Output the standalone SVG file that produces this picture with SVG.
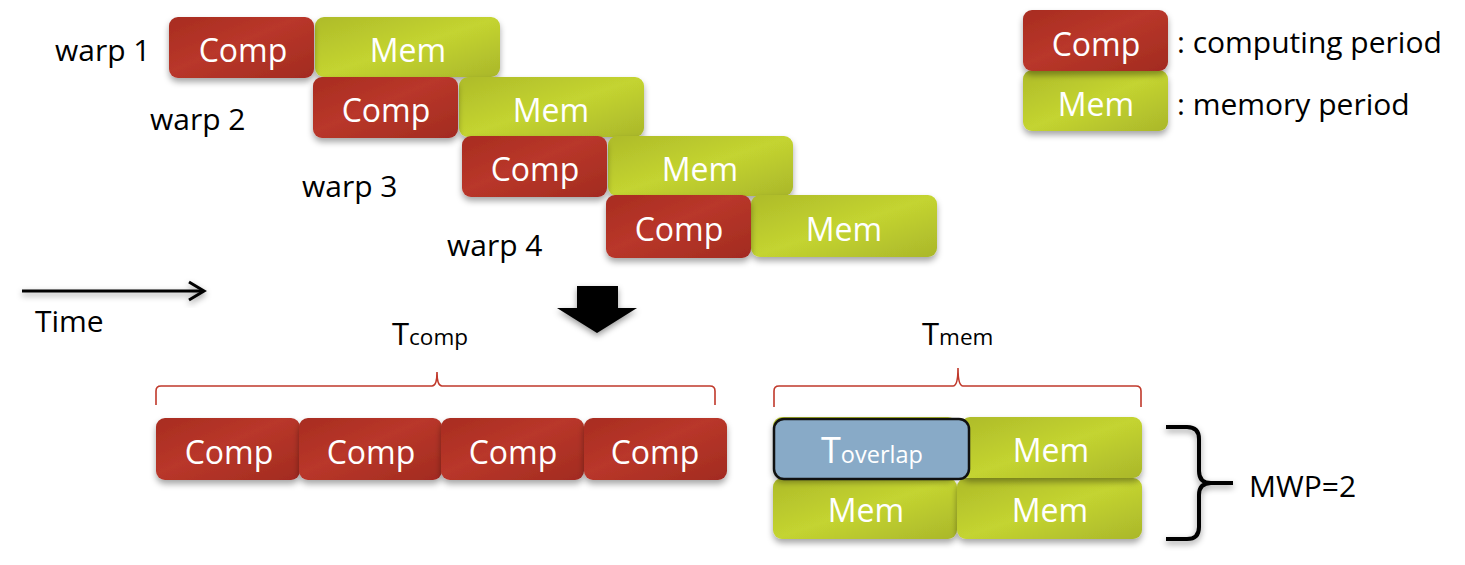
<svg xmlns="http://www.w3.org/2000/svg" width="1465" height="565" viewBox="0 0 1465 565">
<defs>
  <linearGradient id="gComp" x1="0" y1="0" x2="1" y2="1">
    <stop offset="0" stop-color="#a82c20"/>
    <stop offset="0.45" stop-color="#b9372a"/>
    <stop offset="1" stop-color="#a22b20"/>
  </linearGradient>
  <linearGradient id="gMem" x1="0" y1="0" x2="1" y2="1">
    <stop offset="0" stop-color="#aebb2a"/>
    <stop offset="0.5" stop-color="#c4d430"/>
    <stop offset="1" stop-color="#aab72b"/>
  </linearGradient>
  <filter id="sh" x="-10%" y="-10%" width="120%" height="140%">
    <feDropShadow dx="0" dy="4" stdDeviation="3" flood-color="#000" flood-opacity="0.35"/>
  </filter>
  <filter id="sh2" x="-20%" y="-20%" width="140%" height="160%">
    <feDropShadow dx="0" dy="3" stdDeviation="3" flood-color="#000" flood-opacity="0.4"/>
  </filter>
</defs>
<style>
  .comp { fill: url(#gComp); filter: url(#sh); }
  .mem { fill: url(#gMem); filter: url(#sh); }
  .bt { font-family: "Open Sans", "Liberation Sans", sans-serif; font-size: 32px; fill: #ffffff; text-anchor: middle; }
  .lbl { font-family: "Open Sans", "Liberation Sans", sans-serif; font-size: 30px; fill: #000000; }
  .brace { fill: none; stroke: #c0392b; stroke-width: 1.6; }
</style>

<g id="warp1">
  <text class="lbl" x="55" y="61">warp 1</text>
  <rect class="mem" x="315" y="17" width="185" height="60" rx="9"/>
  <rect class="comp" x="169" y="17" width="145" height="61" rx="9"/>
  <text class="bt" x="243" y="62">Comp</text>
  <text class="bt" x="408" y="62">Mem</text>
</g>
<g id="warp2">
  <text class="lbl" x="150" y="130">warp 2</text>
  <rect class="mem" x="459" y="77" width="185" height="60" rx="9"/>
  <rect class="comp" x="313" y="77" width="145" height="61" rx="9"/>
  <text class="bt" x="386" y="122">Comp</text>
  <text class="bt" x="551" y="122">Mem</text>
</g>
<g id="warp3">
  <text class="lbl" x="302" y="197">warp 3</text>
  <rect class="mem" x="608" y="136" width="185" height="60" rx="9"/>
  <rect class="comp" x="462" y="136" width="145" height="61" rx="9"/>
  <text class="bt" x="535" y="181">Comp</text>
  <text class="bt" x="700" y="181">Mem</text>
</g>
<g id="warp4">
  <text class="lbl" x="447" y="256">warp 4</text>
  <rect class="mem" x="751" y="195" width="186" height="62" rx="9"/>
  <rect class="comp" x="606" y="195" width="145" height="63" rx="9"/>
  <text class="bt" x="679" y="241">Comp</text>
  <text class="bt" x="844" y="241">Mem</text>
</g>

<g id="legend">
  <rect class="mem" x="1023" y="70" width="145" height="61" rx="9"/>
  <rect class="comp" x="1023" y="10" width="145" height="61" rx="9"/>
  <text class="bt" x="1096" y="56">Comp</text>
  <text class="bt" x="1096" y="116">Mem</text>
  <text class="lbl" x="1177" y="53" font-size="30.5">: computing period</text>
  <text class="lbl" x="1177" y="115" font-size="30.5">: memory period</text>
</g>

<g id="time">
  <g filter="url(#sh2)">
    <line x1="22" y1="291" x2="203" y2="291" stroke="#000" stroke-width="3"/>
    <polyline points="189,282 204,291 189,300" fill="none" stroke="#000" stroke-width="3"/>
  </g>
  <text class="lbl" x="35" y="332">Time</text>
</g>

<g id="bigarrow">
  <polygon points="577,286 618,286 618,308 637,308 597,333 557,308 577,308" fill="#000" filter="url(#sh2)"/>
</g>

<g id="tcomp">
  <text class="lbl" x="392" y="345"><tspan font-size="31">T</tspan><tspan font-size="22.5">comp</tspan></text>
  <path class="brace" d="M156,405 L156,391 Q156,386 161,386 L432,386 Q437,386 437,372 Q437,386 442,386 L710,386 Q715,386 715,391 L715,405"/>
</g>

<g id="compRow">
  <rect class="comp" x="156" y="418" width="144" height="62" rx="9"/>
  <rect class="comp" x="299" y="418" width="143" height="62" rx="9"/>
  <rect class="comp" x="441" y="418" width="143" height="62" rx="9"/>
  <rect class="comp" x="584" y="418" width="143" height="62" rx="9"/>
  <text class="bt" x="229" y="464">Comp</text>
  <text class="bt" x="371" y="464">Comp</text>
  <text class="bt" x="513" y="464">Comp</text>
  <text class="bt" x="655" y="464">Comp</text>
</g>

<g id="tmem">
  <text class="lbl" x="922" y="345"><tspan font-size="31">T</tspan><tspan font-size="22.5">mem</tspan></text>
  <path class="brace" d="M774,407 L774,391 Q774,386 779,386 L953,386 Q958,386 958,368 Q958,386 963,386 L1136,386 Q1141,386 1141,391 L1141,407"/>
</g>

<g id="memRows">
  <rect class="mem" x="773" y="478" width="184" height="61" rx="9"/>
  <rect class="mem" x="957" y="478" width="185" height="61" rx="9"/>
  <rect class="mem" x="773" y="417" width="184" height="61" rx="9"/>
  <rect class="mem" x="961" y="417" width="181" height="61" rx="9"/>
  <text class="bt" x="1051" y="462">Mem</text>
  <text class="bt" x="866" y="522">Mem</text>
  <text class="bt" x="1050" y="522">Mem</text>
</g>

<g id="toverlap">
  <rect x="774" y="419" width="195" height="60" rx="10" fill="#88aac7" stroke="#111" stroke-width="2.5"/>
  <text x="821" y="463" font-family="Open Sans, Liberation Sans, sans-serif" fill="#fff"><tspan font-size="36">T</tspan><tspan font-size="23.5">overlap</tspan></text>
</g>

<g id="mwp">
  <path d="M1166,427 L1187,427 Q1199,427 1199,439 L1199,471 Q1199,483 1211,483 L1233,483 M1211,483 Q1199,483 1199,495 L1199,527 Q1199,539 1187,539 L1166,539" fill="none" stroke="#000" stroke-width="4" filter="url(#sh2)"/>
  <text class="lbl" x="1249" y="497" font-size="32">MWP=2</text>
</g>
</svg>
